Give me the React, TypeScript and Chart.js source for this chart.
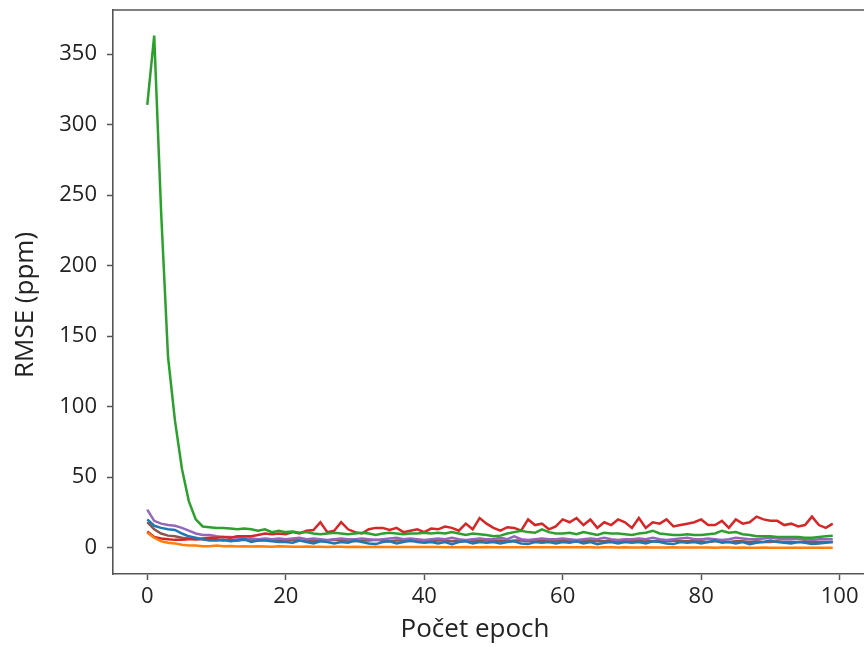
import React, { useEffect, useRef } from "react";
import { Chart, registerables } from "chart.js";

Chart.register(...registerables);

const epochs: number[] = Array.from({ length: 100 }, (_, i) => i);

const seriesBlue: number[] = [
  20, 15.5, 14, 13, 12.5, 10, 8, 7, 6, 5, 5, 5.5, 4.5, 5, 6, 4, 5, 5, 4.5, 4,
  4, 3.5, 5, 4, 3, 4.5, 4, 3, 4, 3.5, 5, 4, 3, 2.5, 4, 4.5, 3, 4, 5, 4,
  3.5, 4, 3, 4, 2.5, 4, 4.5, 3, 4, 3.5, 4, 3, 4, 4.5, 3, 2.5, 4, 3.5, 4, 3,
  4, 3.5, 4.5, 3, 4, 2.5, 3.5, 4, 3, 4, 3.5, 4, 3, 4.5, 4, 3, 2.5, 4, 3.5, 4,
  3, 4, 5, 3.5, 4, 3, 4, 2.5, 3.5, 4, 5, 4, 3.5, 3, 4, 3.5, 2.5, 3, 3.5, 4,
];

const seriesOrange: number[] = [
  10.5, 7, 4.5, 3.5, 3, 2, 1.5, 1.5, 1, 1, 1.5, 1, 1.2, 0.8, 1, 0.8, 1, 0.8, 0.7, 0.9,
  0.8, 0.7, 0.6, 0.8, 0.7, 0.6, 0.5, 0.7, 0.6, 0.5, 0.6, 0.5, 0.4, 0.6, 0.5, 0.4, 0.5, 0.4, 0.5, 0.4,
  0.4, 0.5, 0.4, 0.3, 0.4, 0.3, 0.4, 0.3, 0.3, 0.4, 0.3, 0.3, 0.2, 0.3, 0.3, 0.2, 0.3, 0.2, 0.2, 0.3,
  0.2, 0.2, 0.3, 0.2, 0.2, 0.1, 0.2, 0.2, 0.1, 0.2, 0.1, 0.1, 0.2, 0.1, 0.1, 0.1, 0.2, 0.1, 0.1, 0.1,
  0.1, 0.1, 0.0, 0.1, 0.1, 0.0, 0.1, 0.0, 0.0, 0.1, 0.0, 0.0, 0.0, 0.0, 0.0, 0.0, 0.0, 0.0, 0.0, 0.0,
];

const seriesGreen: number[] = [
  314, 363, 238, 135, 90, 56, 33, 20, 15, 14.5, 14, 14, 13.5, 13, 13.5, 13, 12, 13, 11, 12,
  11, 11.5, 10.5, 11, 10, 9.5, 10, 10.5, 10, 9.5, 10, 10.5, 10, 9, 10, 10.5, 10, 9.5, 10, 10,
  10.5, 10, 10.5, 10, 11, 10, 9, 10, 9.5, 9, 8, 8.5, 10, 11, 12, 11, 10.5, 13, 11, 10,
  10, 10.5, 9.5, 11, 10, 9, 10.5, 10, 10, 9.5, 9, 10, 10.5, 12, 10, 9.5, 9, 9, 9.5, 9,
  9, 9.5, 10, 12, 10.5, 11, 9.5, 9, 8, 8, 8, 7.5, 7.5, 7.5, 7.5, 7, 7, 7.5, 8, 8.5,
];

const seriesRed: number[] = [
  11.5, 7.5, 6.5, 6, 5.5, 5.5, 6, 6, 6.5, 7, 7, 7.5, 7, 8, 8, 8, 9, 10, 9.5, 10,
  9.5, 11, 10, 12, 12.5, 18, 11, 12, 18, 13, 11, 10, 13, 14, 14, 12.5, 14, 11, 12, 13,
  11, 13.5, 13, 15, 14, 12, 17, 13, 21, 17, 14, 12, 14.5, 14, 12, 20, 16, 17, 13, 15,
  20, 18, 21, 16, 20, 14, 18, 16, 20, 18, 14, 21, 14, 18, 17, 20, 15, 16, 17, 18,
  20, 16, 16, 19, 14, 20, 17, 18, 22, 20, 19, 19, 16, 17, 15, 16, 22, 16, 14, 17,
];

const seriesPurple: number[] = [
  27, 19, 17, 16, 15.5, 14, 12, 10, 9, 9, 8, 7.5, 7.5, 7, 6.5, 6.5, 6, 6.5, 6, 6.5,
  6, 6.5, 7, 6, 6.5, 6, 5.5, 6, 6.5, 6, 6, 6.5, 6, 5.5, 6, 6.5, 7, 6, 6.5, 6,
  5.5, 6, 6.5, 6, 7, 6, 5.5, 6, 6.5, 6, 6, 7, 6, 8, 6, 5.5, 6, 6.5, 6, 6,
  6.5, 6, 5.5, 6, 6.5, 6, 7, 6, 5.5, 6, 6, 6.5, 6, 7, 6, 5.5, 6, 6.5, 7, 6,
  6, 6.5, 6, 5.5, 6, 7, 6.5, 6, 6, 6.5, 7, 6.5, 6, 6, 6.5, 6, 5.5, 6, 6, 6,
];

const seriesBrown: number[] = [
  18, 13, 10, 8.5, 8, 7, 6.5, 6, 6, 5.5, 5.5, 5, 5.5, 5, 5.5, 5, 5, 5.5, 5, 5,
  5, 5.5, 5, 5, 4.5, 5, 5, 5.5, 5, 5, 4.5, 5, 5, 5.5, 5, 4.5, 5, 5, 4.5, 5,
  5, 4.5, 5, 5, 4.5, 5, 5, 4.5, 5, 5, 4.5, 5, 4.5, 5, 5, 4.5, 5, 4.5, 4.5, 5,
  4.5, 5, 4.5, 4.5, 5, 4.5, 4.5, 5, 4.5, 4.5, 4.5, 5, 4.5, 4.5, 4.5, 4.5, 5, 4.5, 4.5, 4.5,
  4.5, 4, 4.5, 4.5, 4, 4.5, 4.5, 4, 4.5, 4, 4, 4.5, 4, 4, 4, 4.5, 4, 4, 4, 4,
];

const yTickValues: number[] = [0, 50, 100, 150, 200, 250, 300, 350];
const xTickValues: number[] = [0, 20, 40, 60, 80, 100];
const xTitle = "Počet epoch";
const yTitle = "RMSE (ppm)";

const FONT = "'Open Sans', 'DejaVu Sans', sans-serif";

export default function App() {
  const ref = useRef<HTMLCanvasElement | null>(null);
  useEffect(() => {
    if (!ref.current) return;
    const mk = (data: number[], color: string) => ({
      data: data.map((v, i) => ({ x: epochs[i], y: v })),
      borderColor: color,
      backgroundColor: color,
      borderWidth: 2.5,
      pointRadius: 0,
      tension: 0,
      fill: false,
    });
    const framePlugin = {
      id: "frame",
      afterDraw(chart: any) {
        const { ctx, chartArea } = chart;
        ctx.save();
        ctx.strokeStyle = "#555";
        ctx.lineWidth = 1.6;
        ctx.beginPath();
        ctx.moveTo(chartArea.left, chartArea.top);
        ctx.lineTo(chartArea.right, chartArea.top);
        ctx.lineTo(chartArea.right, chartArea.bottom);
        ctx.stroke();
        ctx.fillStyle = "#222";
        ctx.font = `26px ${FONT}`;
        ctx.textAlign = "center";
        ctx.textBaseline = "middle";
        ctx.fillText(xTitle, 475, 630);
        ctx.translate(26, 305);
        ctx.rotate(-Math.PI / 2);
        ctx.fillText(yTitle, 0, 0);
        ctx.restore();
      },
    };
    const zeroPad = (scale: any) => {
      scale.paddingTop = 0;
      scale.paddingBottom = 0;
      scale.paddingLeft = 0;
      scale.paddingRight = 0;
    };
    const chart = new Chart(ref.current, {
      type: "line",
      data: {
        datasets: [
          mk(seriesBlue, "#1f77b4"),
          mk(seriesOrange, "#ff7f0e"),
          mk(seriesGreen, "#2ca02c"),
          mk(seriesRed, "#d62728"),
          mk(seriesPurple, "#9467bd"),
          mk(seriesBrown, "#8c564b"),
        ],
      },
      options: {
        animation: false,
        responsive: false,
        layout: { padding: { left: 0, top: 10, right: 33, bottom: 0 } },
        plugins: { legend: { display: false }, tooltip: { enabled: false } },
        scales: {
          x: {
            type: "linear",
            min: -4.95,
            max: 103.95,
            afterFit(scale: any) {
              scale.height = 73;
              zeroPad(scale);
            },
            afterBuildTicks(scale: any) {
              scale.ticks = xTickValues.map((v) => ({ value: v }));
            },
            grid: { display: true, drawOnChartArea: false, drawTicks: true, tickLength: 6, color: "#555", tickWidth: 1.5 },
            border: { display: true, color: "#555", width: 1.6 },
            ticks: { color: "#222", font: { family: FONT, size: 22 }, padding: 4, maxRotation: 0 },
          },
          y: {
            type: "linear",
            min: -18.7,
            max: 381.2,
            afterFit(scale: any) {
              scale.width = 113;
              zeroPad(scale);
            },
            afterBuildTicks(scale: any) {
              scale.ticks = yTickValues.map((v) => ({ value: v }));
            },
            grid: { display: true, drawOnChartArea: false, drawTicks: true, tickLength: 6, color: "#555", tickWidth: 1.5 },
            border: { display: true, color: "#555", width: 1.6 },
            ticks: { color: "#222", font: { family: FONT, size: 22 }, padding: 10 },
          },
        },
      },
      plugins: [framePlugin],
    });
    return () => chart.destroy();
  }, []);
  return (
    <div style={{ position: "fixed", left: 0, top: 0, width: 864, height: 647, overflow: "hidden", background: "#fff" }}>
      <canvas ref={ref} width={900} height={647} style={{ display: "block", width: 900, height: 647 }} />
    </div>
  );
}
